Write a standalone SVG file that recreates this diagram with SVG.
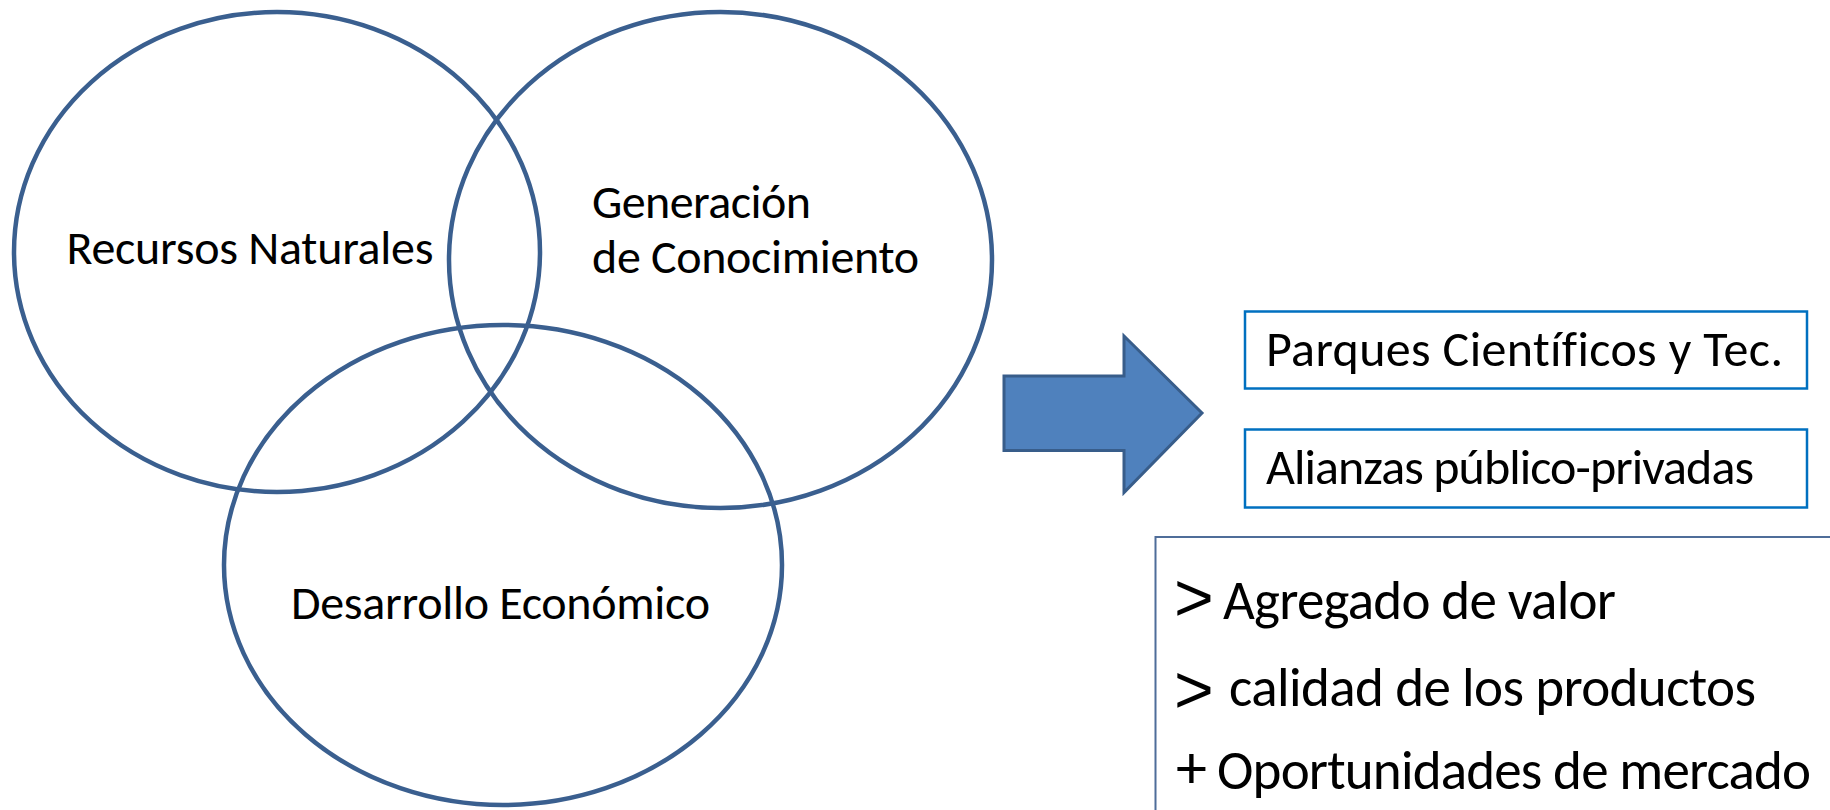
<svg xmlns="http://www.w3.org/2000/svg" width="1830" height="810" viewBox="0 0 1830 810">
<style>
.venn{fill:none;stroke:#3A5F8F;stroke-width:4.5}
.t{font-family:Carlito,Lato,"Open Sans",sans-serif;fill:#000;font-variant-ligatures:none;font-feature-settings:"liga" 0}
.e{font-size:48px}
.b{font-size:50px}
.c{font-size:55px}
.g{font-family:"Liberation Sans",Arial,sans-serif;font-size:68px}
.box{fill:#fff;stroke:#0070C0;stroke-width:2.5}
</style>
<rect width="1830" height="810" fill="#fff"/>
<g id="node-recursos">
<ellipse class="venn" cx="277" cy="252" rx="263" ry="240"/>
<text class="t e" x="66.5" y="264" textLength="367">Recursos Naturales</text>
</g>
<g id="node-generacion">
<ellipse class="venn" cx="720.5" cy="260" rx="271.5" ry="248"/>
<text class="t e" x="592" y="218" textLength="219">Generación</text>
<text class="t e" x="592" y="273" textLength="327">de Conocimiento</text>
</g>
<g id="node-desarrollo">
<ellipse class="venn" cx="503" cy="565" rx="279" ry="240"/>
<text class="t e" x="291" y="619" textLength="419">Desarrollo Económico</text>
</g>
<g id="connectors">
<path d="M1004,376 H1124 V336 L1202,413 L1124,492.5 V450.5 H1004 Z" fill="#4F81BD" stroke="#385D8A" stroke-width="3"/>
</g>
<g id="node-parques">
<rect class="box" x="1245" y="311.5" width="562" height="77"/>
<text class="t b" x="1266" y="366" textLength="517">Parques Científicos y Tec.</text>
</g>
<g id="node-alianzas">
<rect class="box" x="1245" y="429.5" width="562" height="78"/>
<text class="t b" x="1266" y="484" textLength="488">Alianzas público-privadas</text>
</g>
<g id="node-resultados">
<rect x="1155.5" y="537" width="700" height="300" fill="#fff" stroke="#4F6D99" stroke-width="2"/>
<text class="t g" x="1174" y="621">&gt;</text>
<text class="t c" x="1223" y="619" textLength="393">Agregado de valor</text>
<text class="t g" x="1174" y="713">&gt;</text>
<text class="t c" x="1229" y="706" textLength="527">calidad  de los productos</text>
<text class="t c" x="1176" y="788" style="font-size:62px">+</text>
<text class="t c" x="1217" y="789" textLength="594">Oportunidades de mercado</text>
</g>
</svg>
